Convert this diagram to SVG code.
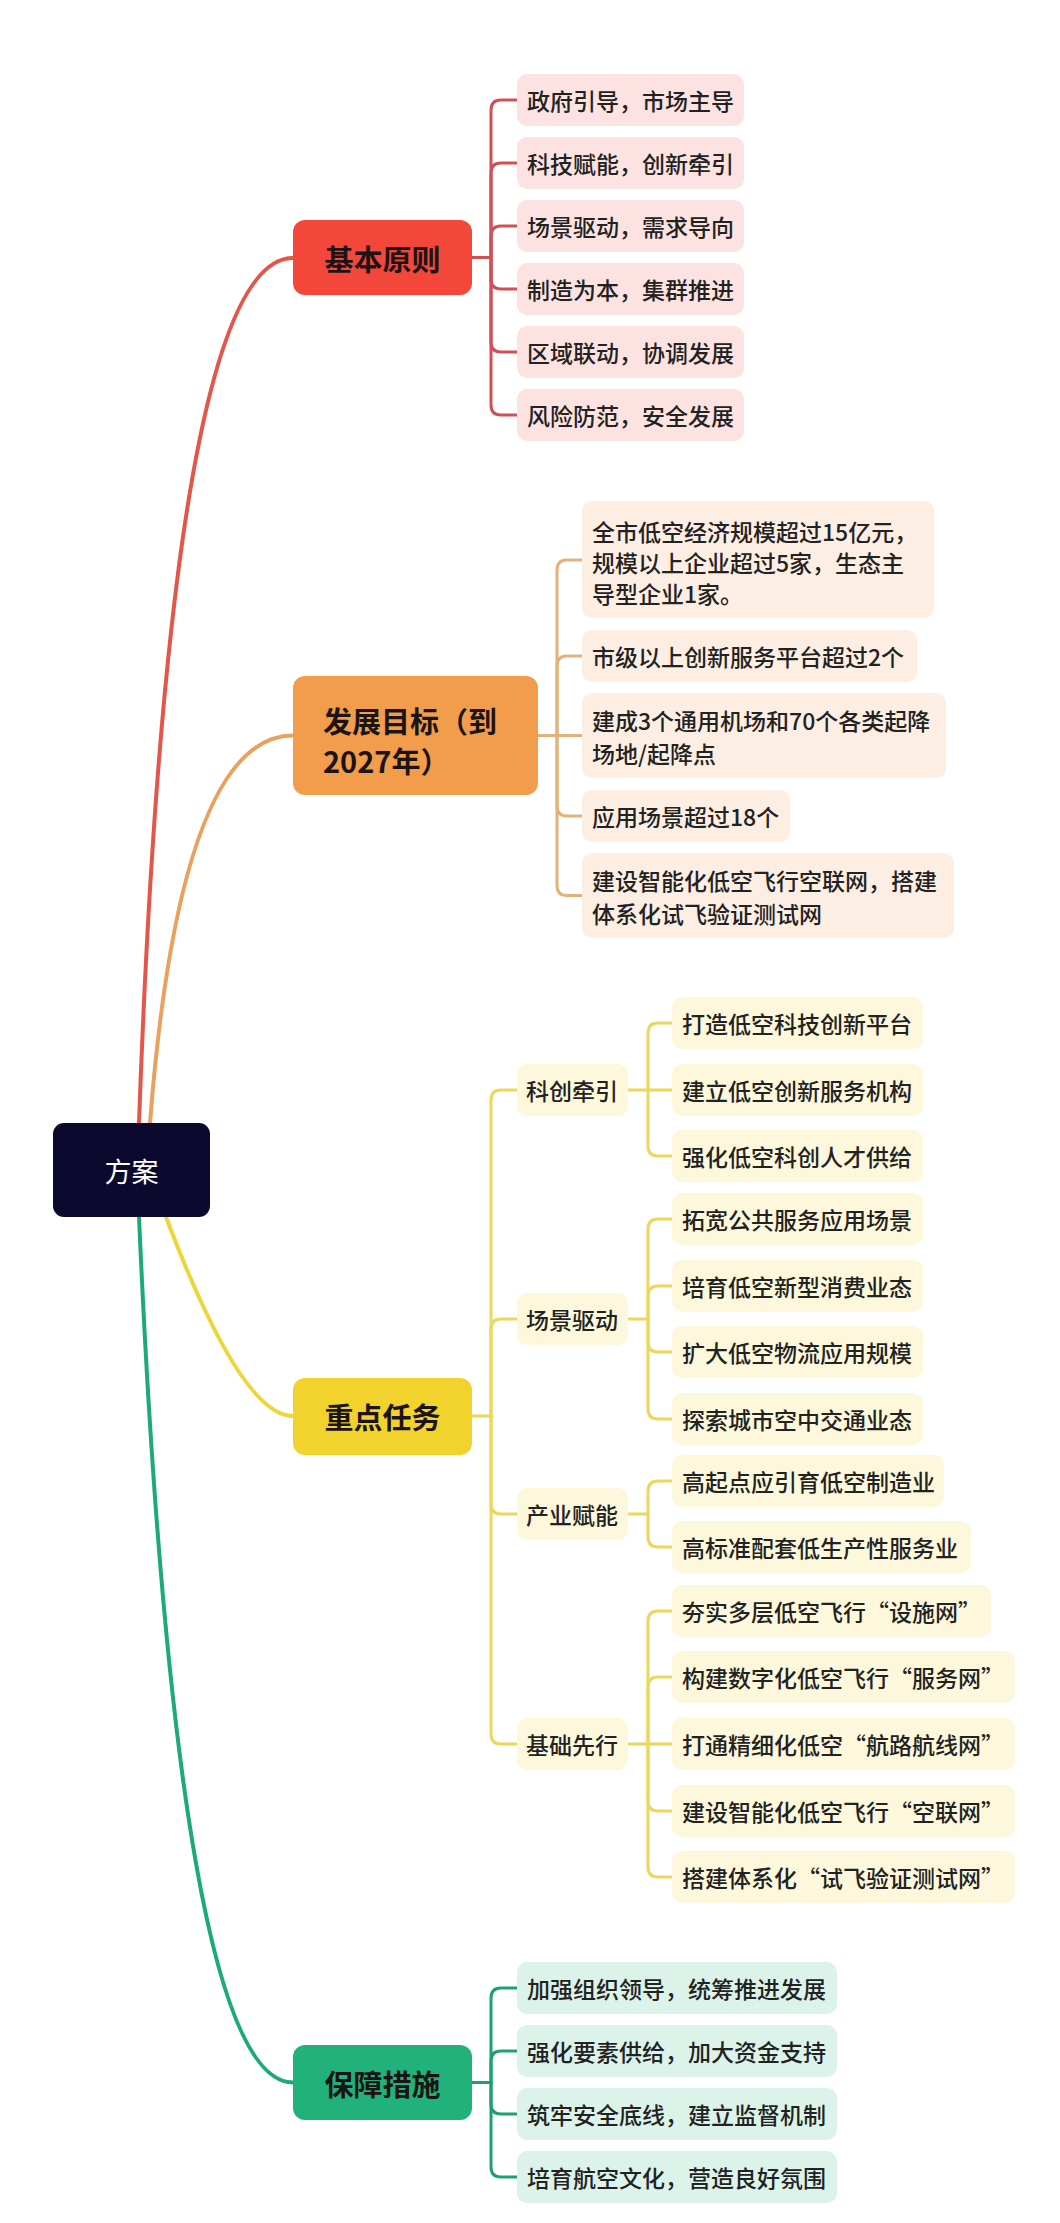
<svg xmlns="http://www.w3.org/2000/svg" width="1060" height="2223" viewBox="0 0 1060 2223">
<style>
.t{font-family:"Noto Sans CJK SC","Noto Sans",sans-serif;dominant-baseline:central}
.c{font-size:23px;fill:#222;font-weight:500}
.m{font-size:29px;font-weight:bold;fill:#1c1414;text-anchor:middle}
.ml{font-size:29px;font-weight:bold;fill:#1c1414}
.lk{fill:none;stroke-linecap:round;stroke-linejoin:round}
.main{stroke-width:4}
.sub{stroke-width:3}
.r{stroke:#CF5157}
.o{stroke:#E2B27B}
.y{stroke:#EBD75A}
.g{stroke:#1FA072}
.br{fill:#FCE3E1}
.bo{fill:#FDEEE3}
.by{fill:#FDF8DB}
.bg{fill:#DCF3E9}
</style>
<rect width="1060" height="2223" fill="#ffffff"/>
<g id="connectors">
<path class="lk main" stroke="#E2564B" d="M139 1123 Q170 258 293 258"/>
<path class="lk main" stroke="#E9A15E" d="M150 1123 Q180 735.5 293 735.5"/>
<path class="lk main" stroke="#EDD63A" d="M166 1217 Q241 1416 293 1416"/>
<path class="lk main" stroke="#1DAA78" d="M139 1217 Q177 2082.5 293 2082.5"/>
<g class="lk sub r">
<path d="M472 257.5 H491"/>
<path d="M491 257.5 V110 Q491 100 501 100 H517"/>
<path d="M491 257.5 V173 Q491 163 501 163 H517"/>
<path d="M491 257.5 V236 Q491 226 501 226 H517"/>
<path d="M491 257.5 V279 Q491 289 501 289 H517"/>
<path d="M491 257.5 V342 Q491 352 501 352 H517"/>
<path d="M491 257.5 V405 Q491 415 501 415 H517"/>
</g>
<g class="lk sub o">
<path d="M538 735.5 H582"/>
<path d="M557 735.5 V570 Q557 560 567 560 H582"/>
<path d="M557 735.5 V666 Q557 656 567 656 H582"/>
<path d="M557 735.5 V806 Q557 816 567 816 H582"/>
<path d="M557 735.5 V885.5 Q557 895.5 567 895.5 H582"/>
</g>
<g class="lk sub y">
<path d="M472 1416 H491"/>
<path d="M491 1416 V1100 Q491 1090 501 1090 H517"/>
<path d="M491 1416 V1329 Q491 1319 501 1319 H517"/>
<path d="M491 1416 V1504 Q491 1514 501 1514 H517"/>
<path d="M491 1416 V1734 Q491 1744 501 1744 H517"/>
<path d="M628 1090 H672"/>
<path d="M648 1090 V1033 Q648 1023 658 1023 H672"/>
<path d="M648 1090 V1146 Q648 1156 658 1156 H672"/>
<path d="M628 1319 H648"/>
<path d="M648 1319 V1229 Q648 1219 658 1219 H672"/>
<path d="M648 1319 V1296 Q648 1286 658 1286 H672"/>
<path d="M648 1319 V1342 Q648 1352 658 1352 H672"/>
<path d="M648 1319 V1409 Q648 1419 658 1419 H672"/>
<path d="M628 1514 H648"/>
<path d="M648 1514 V1491 Q648 1481 658 1481 H672"/>
<path d="M648 1514 V1537 Q648 1547 658 1547 H672"/>
<path d="M628 1744 H672"/>
<path d="M648 1744 V1621 Q648 1611 658 1611 H672"/>
<path d="M648 1744 V1687 Q648 1677 658 1677 H672"/>
<path d="M648 1744 V1801 Q648 1811 658 1811 H672"/>
<path d="M648 1744 V1867 Q648 1877 658 1877 H672"/>
</g>
<g class="lk sub g">
<path d="M472 2082.5 H491"/>
<path d="M491 2082.5 V1998 Q491 1988 501 1988 H517"/>
<path d="M491 2082.5 V2061 Q491 2051 501 2051 H517"/>
<path d="M491 2082.5 V2104 Q491 2114 501 2114 H517"/>
<path d="M491 2082.5 V2167 Q491 2177 501 2177 H517"/>
</g>
</g>
<g id="root">
<rect x="53" y="1123" width="157" height="94" rx="11" fill="#0B0A2E"/>
<text class="t" x="131.5" y="1170" font-size="27" fill="#ffffff" text-anchor="middle">方案</text>
</g>
<g id="n-jbyz">
<rect x="293" y="220" width="179" height="75" rx="12" fill="#F4473B"/>
<text class="t m" x="382.5" y="257.5">基本原则</text>
</g>
<g id="n-jbyz-1"><rect class="br" x="517" y="74" width="227" height="52" rx="10"/><text class="t c" x="527" y="100">政府引导，市场主导</text></g>
<g id="n-jbyz-2"><rect class="br" x="517" y="137" width="227" height="52" rx="10"/><text class="t c" x="527" y="163">科技赋能，创新牵引</text></g>
<g id="n-jbyz-3"><rect class="br" x="517" y="200" width="227" height="52" rx="10"/><text class="t c" x="527" y="226">场景驱动，需求导向</text></g>
<g id="n-jbyz-4"><rect class="br" x="517" y="263" width="227" height="52" rx="10"/><text class="t c" x="527" y="289">制造为本，集群推进</text></g>
<g id="n-jbyz-5"><rect class="br" x="517" y="326" width="227" height="52" rx="10"/><text class="t c" x="527" y="352">区域联动，协调发展</text></g>
<g id="n-jbyz-6"><rect class="br" x="517" y="389" width="227" height="52" rx="10"/><text class="t c" x="527" y="415">风险防范，安全发展</text></g>
<g id="n-fzmb">
<rect x="293" y="676" width="245" height="119" rx="12" fill="#F29D4B"/>
<text class="t ml" x="323" y="720">发展目标（到</text>
<text class="t ml" x="323" y="760">2027年）</text>
</g>
<g id="n-fzmb-1"><rect class="bo" x="582" y="501" width="352" height="117" rx="10"/>
<text class="t c" x="592" y="531">全市低空经济规模超过15亿元，</text>
<text class="t c" x="592" y="562">规模以上企业超过5家，生态主</text>
<text class="t c" x="592" y="593">导型企业1家。</text></g>
<g id="n-fzmb-2"><rect class="bo" x="582" y="630" width="335" height="52" rx="10"/><text class="t c" x="592" y="656">市级以上创新服务平台超过2个</text></g>
<g id="n-fzmb-3"><rect class="bo" x="582" y="693" width="364" height="85" rx="10"/>
<text class="t c" x="592" y="720">建成3个通用机场和70个各类起降</text>
<text class="t c" x="592" y="753">场地/起降点</text></g>
<g id="n-fzmb-4"><rect class="bo" x="582" y="790" width="208" height="52" rx="10"/><text class="t c" x="592" y="816">应用场景超过18个</text></g>
<g id="n-fzmb-5"><rect class="bo" x="582" y="853" width="372" height="85" rx="10"/>
<text class="t c" x="592" y="880">建设智能化低空飞行空联网，搭建</text>
<text class="t c" x="592" y="913">体系化试飞验证测试网</text></g>
<g id="n-zdrw">
<rect x="293" y="1378" width="179" height="77" rx="12" fill="#F2D22C"/>
<text class="t m" x="382.5" y="1416">重点任务</text>
</g>
<g id="n-kcqy"><rect class="by" x="517" y="1064" width="111" height="52" rx="10"/><text class="t c" x="526" y="1090">科创牵引</text></g>
<g id="n-cjqd"><rect class="by" x="517" y="1293" width="111" height="52" rx="10"/><text class="t c" x="526" y="1319">场景驱动</text></g>
<g id="n-cyfn"><rect class="by" x="517" y="1488" width="111" height="52" rx="10"/><text class="t c" x="526" y="1514">产业赋能</text></g>
<g id="n-jcxx"><rect class="by" x="517" y="1718" width="111" height="52" rx="10"/><text class="t c" x="526" y="1744">基础先行</text></g>
<g id="n-kc-1"><rect class="by" x="672" y="997" width="251" height="52" rx="10"/><text class="t c" x="682" y="1023">打造低空科技创新平台</text></g>
<g id="n-kc-2"><rect class="by" x="672" y="1064" width="251" height="52" rx="10"/><text class="t c" x="682" y="1090">建立低空创新服务机构</text></g>
<g id="n-kc-3"><rect class="by" x="672" y="1130" width="251" height="52" rx="10"/><text class="t c" x="682" y="1156">强化低空科创人才供给</text></g>
<g id="n-cj-1"><rect class="by" x="672" y="1193" width="251" height="52" rx="10"/><text class="t c" x="682" y="1219">拓宽公共服务应用场景</text></g>
<g id="n-cj-2"><rect class="by" x="672" y="1260" width="251" height="52" rx="10"/><text class="t c" x="682" y="1286">培育低空新型消费业态</text></g>
<g id="n-cj-3"><rect class="by" x="672" y="1326" width="251" height="52" rx="10"/><text class="t c" x="682" y="1352">扩大低空物流应用规模</text></g>
<g id="n-cj-4"><rect class="by" x="672" y="1393" width="251" height="52" rx="10"/><text class="t c" x="682" y="1419">探索城市空中交通业态</text></g>
<g id="n-cy-1"><rect class="by" x="672" y="1455" width="272" height="52" rx="10"/><text class="t c" x="682" y="1481">高起点应引育低空制造业</text></g>
<g id="n-cy-2"><rect class="by" x="672" y="1521" width="299" height="52" rx="10"/><text class="t c" x="682" y="1547">高标准配套低生产性服务业</text></g>
<g id="n-jc-1"><rect class="by" x="672" y="1585" width="319" height="52" rx="10"/><text class="t c" x="682" y="1611">夯实多层低空飞行“设施网”</text></g>
<g id="n-jc-2"><rect class="by" x="672" y="1651" width="343" height="52" rx="10"/><text class="t c" x="682" y="1677">构建数字化低空飞行“服务网”</text></g>
<g id="n-jc-3"><rect class="by" x="672" y="1718" width="343" height="52" rx="10"/><text class="t c" x="682" y="1744">打通精细化低空“航路航线网”</text></g>
<g id="n-jc-4"><rect class="by" x="672" y="1785" width="343" height="52" rx="10"/><text class="t c" x="682" y="1811">建设智能化低空飞行“空联网”</text></g>
<g id="n-jc-5"><rect class="by" x="672" y="1851" width="343" height="52" rx="10"/><text class="t c" x="682" y="1877">搭建体系化“试飞验证测试网”</text></g>
<g id="n-bzcs">
<rect x="293" y="2045" width="179" height="75" rx="12" fill="#20B27A"/>
<text class="t m" x="382.5" y="2082.5">保障措施</text>
</g>
<g id="n-bz-1"><rect class="bg" x="517" y="1962" width="320" height="52" rx="10"/><text class="t c" x="527" y="1988">加强组织领导，统筹推进发展</text></g>
<g id="n-bz-2"><rect class="bg" x="517" y="2025" width="320" height="52" rx="10"/><text class="t c" x="527" y="2051">强化要素供给，加大资金支持</text></g>
<g id="n-bz-3"><rect class="bg" x="517" y="2088" width="320" height="52" rx="10"/><text class="t c" x="527" y="2114">筑牢安全底线，建立监督机制</text></g>
<g id="n-bz-4"><rect class="bg" x="517" y="2151" width="320" height="52" rx="10"/><text class="t c" x="527" y="2177">培育航空文化，营造良好氛围</text></g>
</svg>
